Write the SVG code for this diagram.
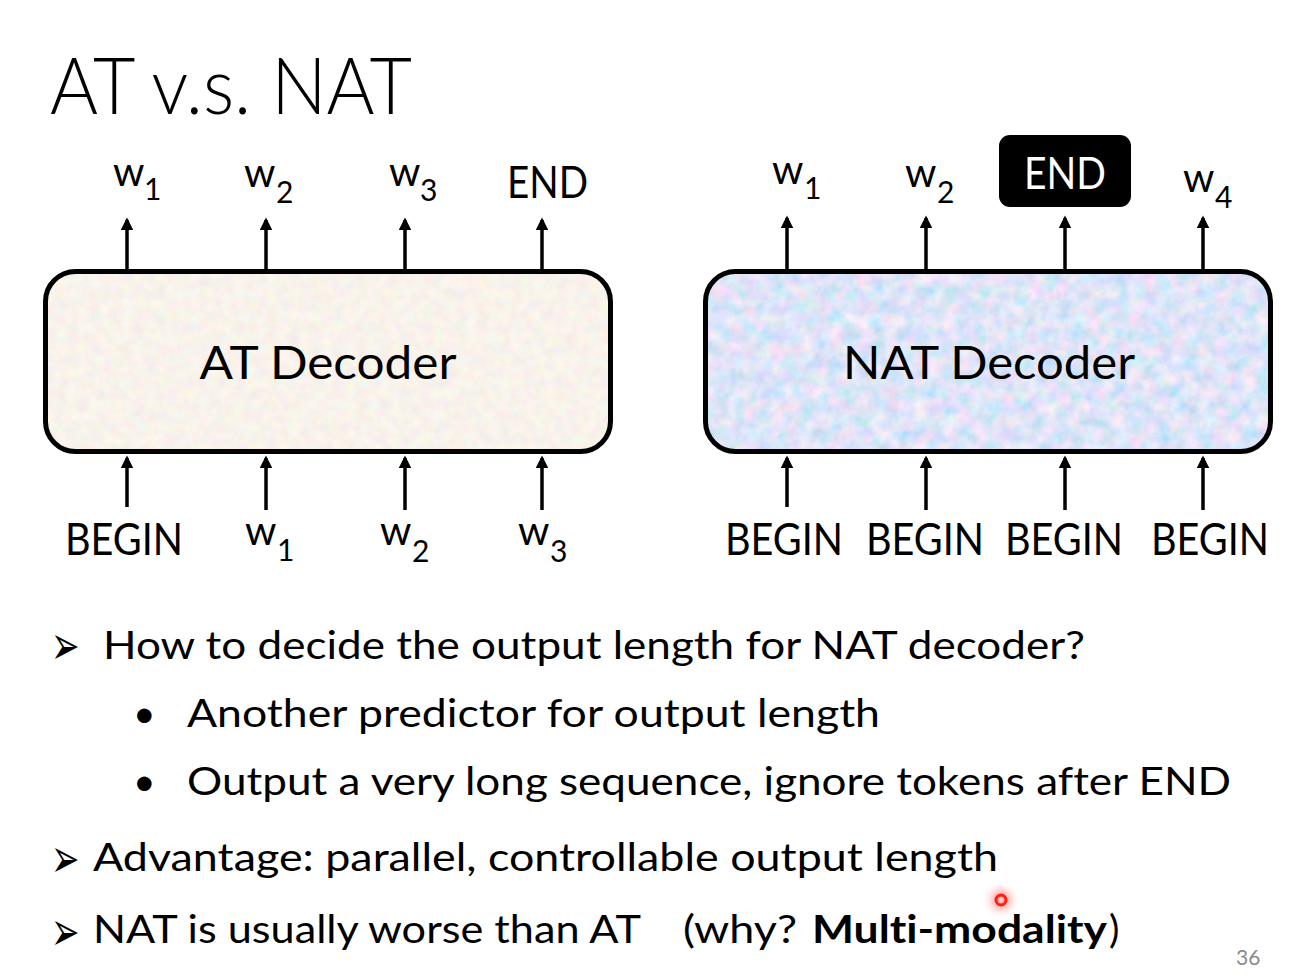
<svg xmlns="http://www.w3.org/2000/svg" width="1313" height="977" viewBox="0 0 1313 977">
<style>
.t{font-family:Lato,"Open Sans","Liberation Sans",sans-serif;fill:#000;font-variant-ligatures:none}
.tok{font-size:44px}
.w{font-size:40px}
.sub{font-size:30px}
.dec{font-size:46px}
.body{font-size:39px}
.frame{fill:none;stroke:#000;stroke-width:5}
.arr{stroke:#000;stroke-width:3.5;fill:none;marker-end:url(#ah)}
.sym{font-family:"DejaVu Sans",sans-serif;font-size:34px;fill:#000}
</style>
<defs>
<marker id="ah" viewBox="0 0 10 10" refX="8" refY="5" markerWidth="3.6" markerHeight="3.6" orient="auto" markerUnits="strokeWidth">
<path d="M0,0 L10,5 L0,10 z" fill="#000"/>
</marker>
<filter id="texBeige" x="0" y="0" width="100%" height="100%">
<feTurbulence type="fractalNoise" baseFrequency="0.09" numOctaves="3" seed="5" result="n"/>
<feColorMatrix in="n" type="matrix" values="0.18 0 0 0 0.85  0 0.18 0 0 0.8  0 0 0.18 0 0.74  0 0 0 0 1" result="c"/>
<feComposite in="c" in2="SourceGraphic" operator="in"/>
</filter>
<filter id="texBlue" x="0" y="0" width="100%" height="100%">
<feTurbulence type="fractalNoise" baseFrequency="0.07" numOctaves="3" seed="9" result="n"/>
<feColorMatrix in="n" type="matrix" values="0.8 0 0 0 0.33  0 0.3 0 0 0.63  0 0 0.25 0 0.81  0 0 0 0 1" result="c"/>
<feComposite in="c" in2="SourceGraphic" operator="in"/>
</filter>
<filter id="glow" x="-100%" y="-100%" width="300%" height="300%">
<feGaussianBlur stdDeviation="4"/>
</filter>
</defs>
<rect width="1313" height="977" fill="#fff"/>

<text id="title" class="t" x="50" y="114" font-size="78" font-weight="300" textLength="362" lengthAdjust="spacingAndGlyphs">AT v.s. NAT</text>

<g id="at-decoder">
<rect x="45.5" y="271.5" width="565" height="180" rx="30" fill="#f3e8dc" filter="url(#texBeige)"/>
<rect class="frame" x="45.5" y="271.5" width="565" height="180" rx="30"/>
<text class="t dec" x="328" y="379" text-anchor="middle" textLength="257" lengthAdjust="spacingAndGlyphs">AT Decoder</text>
</g>

<g id="nat-decoder">
<rect x="705.5" y="271.5" width="565" height="180" rx="30" fill="#bfd3f3" filter="url(#texBlue)"/>
<rect class="frame" x="705.5" y="271.5" width="565" height="180" rx="30"/>
<text class="t dec" x="989" y="379" text-anchor="middle" textLength="292" lengthAdjust="spacingAndGlyphs">NAT Decoder</text>
</g>

<g id="at-outputs">
<text class="t w" x="113" y="186">w<tspan class="sub" x="144" y="200">1</tspan></text>
<text class="t w" x="244" y="187">w<tspan class="sub" x="276" y="203">2</tspan></text>
<text class="t w" x="389" y="186">w<tspan class="sub" x="420" y="201">3</tspan></text>
<text class="t tok" x="507" y="198" textLength="81" lengthAdjust="spacingAndGlyphs">END</text>
</g>

<g id="at-inputs">
<text class="t tok" x="65" y="555" textLength="118" lengthAdjust="spacingAndGlyphs">BEGIN</text>
<text class="t w" x="245" y="545">w<tspan class="sub" x="277" y="561">1</tspan></text>
<text class="t w" x="380" y="545">w<tspan class="sub" x="412" y="562">2</tspan></text>
<text class="t w" x="518" y="545">w<tspan class="sub" x="550" y="562">3</tspan></text>
</g>

<g id="nat-outputs">
<text class="t w" x="772" y="184">w<tspan class="sub" x="804" y="199">1</tspan></text>
<text class="t w" x="905" y="187">w<tspan class="sub" x="937" y="203">2</tspan></text>
<g id="nat-end">
<rect x="999" y="135" width="132" height="72" rx="11" fill="#000"/>
<text class="t tok" x="1024" y="189" textLength="82" lengthAdjust="spacingAndGlyphs" style="fill:#fff">END</text>
</g>
<text class="t w" x="1183" y="192">w<tspan class="sub" x="1215" y="208">4</tspan></text>
</g>

<g id="nat-inputs">
<text class="t tok" x="725" y="555" textLength="118" lengthAdjust="spacingAndGlyphs">BEGIN</text>
<text class="t tok" x="866" y="555" textLength="118" lengthAdjust="spacingAndGlyphs">BEGIN</text>
<text class="t tok" x="1005" y="555" textLength="118" lengthAdjust="spacingAndGlyphs">BEGIN</text>
<text class="t tok" x="1151" y="555" textLength="118" lengthAdjust="spacingAndGlyphs">BEGIN</text>
</g>

<g id="connectors">
<line class="arr" x1="127" y1="269" x2="127" y2="220"/>
<line class="arr" x1="266" y1="269" x2="266" y2="220"/>
<line class="arr" x1="405" y1="269" x2="405" y2="220"/>
<line class="arr" x1="542" y1="269" x2="542" y2="220"/>
<line class="arr" x1="127" y1="507" x2="127" y2="458"/>
<line class="arr" x1="266" y1="510" x2="266" y2="458"/>
<line class="arr" x1="405" y1="510" x2="405" y2="458"/>
<line class="arr" x1="542" y1="510" x2="542" y2="458"/>
<line class="arr" x1="787" y1="269" x2="787" y2="218"/>
<line class="arr" x1="926" y1="269" x2="926" y2="218"/>
<line class="arr" x1="1065" y1="269" x2="1065" y2="218"/>
<line class="arr" x1="1203" y1="269" x2="1203" y2="218"/>
<line class="arr" x1="787" y1="507" x2="787" y2="458"/>
<line class="arr" x1="926" y1="510" x2="926" y2="458"/>
<line class="arr" x1="1065" y1="510" x2="1065" y2="458"/>
<line class="arr" x1="1203" y1="510" x2="1203" y2="458"/>
</g>

<g id="bullets">
<text class="sym" transform="translate(51,664) scale(1,1.6)">➢</text>
<text class="t body" x="103" y="659" textLength="982" lengthAdjust="spacingAndGlyphs">How to decide the output length for NAT decoder?</text>
<text class="t body" x="133" y="727">•</text>
<text class="t body" x="187" y="727" textLength="693" lengthAdjust="spacingAndGlyphs">Another predictor for output length</text>
<text class="t body" x="133" y="795">•</text>
<text class="t body" x="187" y="795" textLength="1044" lengthAdjust="spacingAndGlyphs">Output a very long sequence, ignore tokens after END</text>
<text class="sym" transform="translate(51,877) scale(1,1.6)">➢</text>
<text class="t body" x="93" y="871" textLength="905" lengthAdjust="spacingAndGlyphs">Advantage: parallel, controllable output length</text>
<text class="sym" transform="translate(51,950) scale(1,1.6)">➢</text>
<text class="t body" x="93" y="943" textLength="548" lengthAdjust="spacingAndGlyphs">NAT is usually worse than AT</text>
<text class="t body" x="683" y="943"><tspan textLength="114" lengthAdjust="spacingAndGlyphs">(why?</tspan> <tspan x="812" font-weight="700" textLength="295" lengthAdjust="spacingAndGlyphs">Multi-modality</tspan><tspan x="1109">)</tspan></text>
</g>

<text id="page-number" x="1236" y="965" font-family="Lato,'Open Sans',sans-serif" font-size="21" fill="#8a8a8a">36</text>

<g id="pointer">
<circle cx="1001" cy="900" r="10" fill="#ff2a1a" opacity="0.45" filter="url(#glow)"/>
<circle cx="1001" cy="900" r="5" fill="none" stroke="#ff1e10" stroke-width="3"/>
<circle cx="1001" cy="900" r="2" fill="#ffd6d0"/>
</g>
</svg>
